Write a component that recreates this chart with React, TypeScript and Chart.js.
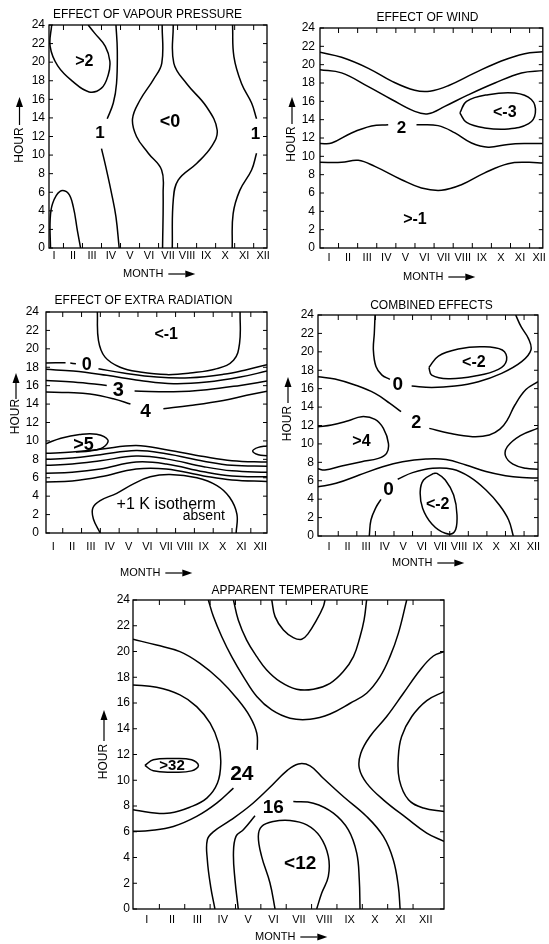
import React, { useEffect, useRef } from "react";
import { Chart, registerables } from "chart.js";

Chart.register(...registerables);

type Pt = [number, number];
type Lbl = [number, number, string];

// ---------- axis values ----------
const MONTHS = ["I", "II", "III", "IV", "V", "VI", "VII", "VIII", "IX", "X", "XI", "XII"];
const HOUR_TICKS = [0, 2, 4, 6, 8, 10, 12, 14, 16, 18, 20, 22, 24];
const MONTH_BOUNDS = [1.5, 2.5, 3.5, 4.5, 5.5, 6.5, 7.5, 8.5, 9.5, 10.5, 11.5];

// ---------- Effect of vapour pressure (month, hour) ----------
const VP_GT2: Pt[] = [[0.88, 24], [0.8, 21.7], [1.2, 19.6], [2.0, 17.9], [2.85, 16.8], [3.5, 17.2], [3.85, 18.6], [3.94, 20.1], [3.7, 21.7], [3.15, 23.1], [2.8, 24]];
const VP_LOW_LEFT: Pt[] = [[0.82, 0], [0.8, 3], [0.93, 4.8], [1.32, 6.1], [1.75, 5.9], [2.02, 4.4], [2.23, 1.9], [2.4, 0]];
const VP_1A_TOP: Pt[] = [[4.26, 24], [4.33, 21.3], [4.29, 17.7], [4.12, 15.6], [3.8, 13.9]];
const VP_1A_BOT: Pt[] = [[3.5, 10.7], [3.73, 8.7], [4.03, 5.86], [4.26, 3.34], [4.43, 0]];
const VP_0_LEFT: Pt[] = [[6.69, 24], [6.67, 19.9], [6.22, 18.1], [5.52, 15.9], [5.13, 13.9], [5.34, 12.0], [5.96, 10.2], [6.66, 8.4], [6.74, 5.9], [6.71, 0]];
const VP_0_RIGHT: Pt[] = [[7.27, 24], [7.3, 19.9], [7.97, 17.7], [9.02, 15.2], [9.58, 12.7], [9.28, 10.9], [8.5, 9.1], [7.53, 7.3], [7.27, 5.1], [7.22, 0]];
const VP_1B_TOP: Pt[] = [[10.39, 24], [10.46, 20.6], [10.86, 17.7], [11.39, 15.6], [11.65, 13.9]];
const VP_1B_BOT: Pt[] = [[11.65, 10.2], [11.39, 8.4], [10.77, 6.2], [10.42, 3.7], [10.37, 0]];
const VP_LABELS: Lbl[] = [[2.6, 20.1, ">2"], [3.42, 12.3, "1"], [7.1, 13.6, "<0"], [11.6, 12.2, "1"]];

// ---------- Effect of wind ----------
const W_TOP: Pt[] = [[0.53, 21.35], [1.66, 20.8], [3.06, 19.6], [4.28, 18.2], [5.49, 17.2], [6.28, 17.1], [7.24, 17.7], [8.63, 19.1], [10.02, 20.4], [11.24, 21.2], [12.19, 21.4]];
const W_SECOND: Pt[] = [[0.53, 19.45], [1.66, 19.1], [3.06, 17.6], [4.28, 16.2], [5.49, 14.9], [6.19, 14.65], [7.06, 15.45], [8.28, 16.7], [9.68, 18.0], [11.07, 19.1], [12.19, 19.35]];
const W_2_LEFT: Pt[] = [[0.53, 11.4], [1.14, 11.45], [2.18, 12.55], [3.23, 13.3], [4.1, 13.45]];
const W_2_RIGHT: Pt[] = [[5.58, 13.45], [6.71, 13.35], [7.59, 12.55], [8.46, 11.45], [9.33, 11.0], [10.37, 11.3], [11.42, 11.4], [12.19, 11.4]];
const W_LT3: Pt[] = [[7.85, 14.73], [8.2, 16.0], [9.33, 16.73], [10.72, 16.9], [11.59, 16.2], [11.8, 14.73], [11.45, 13.56], [10.37, 12.98], [9.15, 13.1], [8.2, 13.7], [7.85, 14.73]];
const W_BOTTOM: Pt[] = [[0.53, 9.35], [1.66, 9.35], [2.53, 9.56], [3.4, 8.9], [4.8, 7.45], [5.84, 6.55], [6.89, 6.3], [7.93, 6.9], [9.15, 8.2], [10.37, 9.2], [11.42, 9.35], [12.19, 9.27]];
const W_LABELS: Lbl[] = [[4.8, 13.1, "2"], [10.2, 14.8, "<-3"], [5.5, 3.1, ">-1"]];

// ---------- Effect of extra radiation ----------
const R_LT1: Pt[] = [[3.34, 24], [3.4, 20.9], [3.75, 19.1], [4.55, 18.0], [5.61, 17.48], [7.03, 17.2], [8.27, 17.37], [9.7, 17.85], [10.58, 18.75], [10.9, 20.57], [10.93, 24]];
const R_0_LEFT: Pt[] = [[0.61, 18.46], [1.65, 18.5]];
const R_0_DASH: Pt[] = [[1.9, 18.45], [2.2, 18.38]];
const R_0_RIGHT: Pt[] = [[3.4, 17.84], [4.73, 17.37], [6.5, 16.93], [8.27, 16.86], [10.04, 17.23], [11.28, 17.73], [12.36, 18.28]];
const R_B: Pt[] = [[0.61, 17.77], [2.06, 17.59], [3.84, 17.12], [5.61, 16.57], [7.39, 16.21], [9.16, 16.39], [10.94, 16.93], [12.36, 17.59]];
const R_3_LEFT: Pt[] = [[0.61, 16.57], [2.06, 16.39], [3.84, 16.03]];
const R_3_RIGHT: Pt[] = [[5.32, 15.42], [7.39, 15.34], [9.16, 15.56], [10.94, 16.03], [12.36, 16.5]];
const R_4_LEFT: Pt[] = [[0.61, 15.3], [1.8, 15.25], [2.95, 15.1], [4.19, 14.58], [5.1, 14.0]];
const R_4_RIGHT: Pt[] = [[6.85, 13.49], [8.27, 13.85], [10.04, 14.4], [11.28, 14.95], [12.36, 15.4]];
const R_GT5: Pt[] = [[0.61, 9.7], [1.4, 10.3], [2.4, 10.7], [3.3, 10.72], [3.9, 10.1], [3.65, 9.3], [2.95, 8.9], [2.2, 8.8]];
const R_L1: Pt[] = [[0.61, 8.65], [2.0, 8.8], [3.5, 9.1], [5.4, 9.5], [7.0, 9.05], [9.0, 8.3], [10.5, 7.85], [12.36, 7.7]];
const R_L2: Pt[] = [[0.61, 8.0], [2.0, 8.15], [3.5, 8.5], [5.4, 8.95], [7.0, 8.6], [9.0, 7.8], [10.5, 7.35], [12.36, 7.25]];
const R_L3: Pt[] = [[0.61, 7.35], [2.0, 7.5], [3.5, 7.85], [5.4, 8.35], [7.0, 8.05], [9.0, 7.2], [10.5, 6.75], [12.36, 6.6]];
const R_L4: Pt[] = [[0.61, 6.5], [2.0, 6.6], [3.5, 6.95], [5.4, 7.7], [7.0, 7.5], [9.0, 6.65], [10.5, 6.2], [12.36, 6.1]];
const R_L5: Pt[] = [[0.61, 5.55], [2.0, 5.65], [3.5, 6.1], [5.4, 6.95], [7.0, 6.95], [9.0, 6.2], [10.5, 5.75], [12.36, 5.6]];
const R_RIGHT_LOOP: Pt[] = [[12.36, 9.45], [11.9, 9.3], [11.6, 8.9], [11.9, 8.5], [12.36, 8.4]];
const R_BUMP: Pt[] = [[3.49, 0], [3.13, 1.52], [3.1, 2.72], [3.49, 3.52], [4.37, 4.31], [5.26, 5.33], [6.15, 6.1], [7.2, 6.35], [8.63, 6.0], [9.7, 5.15], [10.37, 3.88], [10.76, 2.06], [10.72, 0]];
const R_LABELS: Lbl[] = [[7.0, 21.5, "<-1"], [2.78, 18.2, "0"], [4.45, 15.5, "3"], [5.9, 13.2, "4"], [2.6, 9.6, ">5"], [7.0, 3.1, "+1 K isotherm"], [9.0, 1.8, "absent"]];

// ---------- Combined effects ----------
const C_0_TOP_LEFT: Pt[] = [[3.48, 24], [3.44, 22.0], [3.39, 20.2], [3.53, 18.4], [3.84, 17.5], [4.28, 17.0]];
const C_0_TOP_RIGHT: Pt[] = [[5.45, 16.29], [6.53, 16.14], [7.78, 16.29], [9.04, 16.76], [10.29, 17.66], [11.37, 18.93], [11.87, 20.2], [11.73, 21.46], [11.34, 22.73], [11.05, 24]];
const C_LT2_TOP: Pt[] = [[6.38, 18.31], [6.89, 19.54], [7.96, 20.3], [9.22, 20.56], [10.33, 20.2], [10.56, 19.11], [10.12, 18.1], [8.86, 17.37], [7.42, 17.08], [6.53, 17.48], [6.38, 18.31]];
const C_2_LEFT: Pt[] = [[0.41, 17.3], [1.32, 17.05], [2.4, 16.4], [3.48, 15.49], [4.28, 14.4], [4.88, 13.5]];
const C_2_RIGHT: Pt[] = [[6.4, 11.69], [7.48, 11.15], [8.73, 10.79], [9.63, 10.97], [10.2, 11.6], [10.6, 12.6], [11.0, 14.2], [11.6, 15.9], [12.25, 16.76]];
const C_GT4: Pt[] = [[0.41, 11.87], [1.14, 12.05], [2.04, 12.52], [2.76, 12.96], [3.48, 12.67], [3.93, 11.69], [4.2, 10.06], [4.1, 8.98], [3.66, 8.43], [2.76, 8.07], [1.68, 7.6], [0.78, 7.17], [0.41, 7.3]];
const C_MID: Pt[] = [[0.41, 5.35], [1.38, 5.72], [2.63, 6.62], [3.89, 7.53], [4.96, 8.07], [6.22, 8.35], [7.3, 8.3], [8.37, 7.71], [9.45, 7.0], [10.5, 6.55], [11.4, 6.35], [12.25, 6.3]];
const C_RIGHT_LOOP: Pt[] = [[12.25, 11.7], [11.3, 10.9], [10.6, 9.7], [10.5, 8.7], [10.9, 7.8], [11.6, 7.35], [12.25, 7.25]];
const C_0_BOT_LEFT: Pt[] = [[3.17, 0], [3.26, 1.74], [3.53, 3.11], [3.8, 3.98]];
const C_0_BOT_RIGHT: Pt[] = [[4.7, 6.16], [5.5, 6.88], [6.58, 7.35], [7.66, 7.24], [8.55, 6.44], [9.45, 4.99], [10.17, 3.36], [10.67, 1.74], [10.92, 0]];
const C_LT2_BOT: Pt[] = [[6.63, 6.8], [6.09, 6.08], [5.91, 4.82], [6.04, 3.01], [6.54, 1.3], [7.26, 0.29], [7.76, 0.47], [7.89, 2.28], [7.71, 4.45], [7.26, 6.08], [6.81, 6.8], [6.63, 6.8]];
const C_LABELS: Lbl[] = [[4.7, 16.4, "0"], [8.8, 18.8, "<-2"], [5.7, 12.3, "2"], [2.75, 10.2, ">4"], [4.21, 5.0, "0"], [6.85, 3.45, "<-2"]];

// ---------- Apparent temperature ----------
const A_24_LEFT_TOP: Pt[] = [[0.46, 20.95], [1.39, 20.5], [2.31, 19.99], [3.1, 19.08], [3.89, 17.79], [4.55, 16.37], [5.07, 14.95], [5.34, 13.65], [5.36, 12.36]];
const A_24_LEFT_BOT: Pt[] = [[4.42, 9.39], [3.76, 8.22], [2.97, 7.19], [2.05, 6.41], [1.13, 6.1], [0.46, 6.03]];
const A_28_LEFT: Pt[] = [[0.46, 17.4], [1.39, 17.22], [2.31, 16.63], [2.97, 15.72], [3.5, 14.43], [3.83, 12.88], [3.92, 11.33], [3.79, 9.78], [3.37, 8.61], [2.71, 7.91], [1.92, 7.45], [1.13, 7.5], [0.46, 7.71]];
const A_32: Pt[] = [[0.93, 11.15], [1.26, 11.59], [2.05, 11.69], [2.77, 11.59], [3.04, 11.15], [2.77, 10.73], [2.05, 10.63], [1.26, 10.73], [0.93, 11.15]];
const A_20_TOP: Pt[] = [[3.43, 24], [3.63, 22.71], [3.96, 21.15], [4.35, 19.6], [4.81, 18.05], [5.34, 16.5], [5.93, 15.46], [6.65, 14.82], [7.44, 14.74], [8.23, 15.15], [9.02, 15.98], [9.67, 16.76], [10.2, 18.05], [10.59, 19.6], [10.92, 21.41], [11.25, 24]];
const A_16_TOP: Pt[] = [[4.42, 24], [4.61, 22.45], [4.94, 20.89], [5.34, 19.6], [5.73, 18.57], [6.26, 17.66], [6.91, 17.07], [7.57, 17.07], [8.23, 17.53], [8.75, 18.44], [9.15, 19.6], [9.41, 21.15], [9.57, 22.45], [9.67, 24]];
const A_12_TOP: Pt[] = [[5.93, 24], [6.06, 22.71], [6.39, 21.67], [6.78, 21.08], [7.11, 20.95], [7.37, 21.41], [7.7, 22.45], [7.96, 23.48], [8.03, 24]];
const A_24_RIGHT: Pt[] = [[12.72, 19.99], [12.3, 19.65], [11.78, 18.57], [11.12, 16.76], [10.46, 14.95], [9.8, 13.4], [9.44, 12.1], [9.38, 10.94], [9.67, 9.78], [10.33, 8.48], [11.25, 7.06], [12.04, 5.9], [12.72, 5.25]];
const A_28_RIGHT: Pt[] = [[12.72, 16.89], [12.04, 16.19], [11.45, 14.95], [11.05, 13.4], [10.92, 11.84], [10.96, 10.03], [11.32, 8.48], [11.91, 7.84], [12.72, 7.58]];
const A_20_BOT: Pt[] = [[3.69, 0], [3.52, 1.76], [3.39, 3.83], [3.39, 5.38], [3.65, 6.03], [4.29, 6.88], [5.07, 8.02], [5.86, 9.46], [6.52, 10.73], [6.98, 11.27], [7.44, 11.12], [7.96, 10.16], [8.75, 8.74], [9.67, 7.19], [10.33, 5.64], [10.72, 3.83], [10.92, 1.76], [10.99, 0]];
const A_16_BOT_LEFT: Pt[] = [[4.61, 0], [4.48, 2.28], [4.42, 4.34], [4.52, 5.64], [4.81, 6.15], [5.27, 7.24]];
const A_16_BOT_RIGHT: Pt[] = [[6.78, 8.35], [7.57, 8.22], [8.36, 7.45], [8.95, 6.15], [9.28, 4.34], [9.38, 2.28], [9.41, 0]];
const A_12_BOT: Pt[] = [[6.06, 0], [5.86, 2.02], [5.53, 4.09], [5.4, 5.64], [5.53, 6.41], [5.99, 6.8], [6.65, 6.88], [7.31, 6.54], [7.83, 5.64], [8.16, 4.09], [8.16, 2.53], [7.9, 1.24], [7.7, 0]];
const A_LABELS: Lbl[] = [[4.75, 10.5, "24"], [5.99, 7.84, "16"], [7.05, 3.55, "<12"], [2.0, 11.12, ">32"]];

// ---------- layout / style ----------
const FONT = '"Liberation Sans", Arial, Helvetica, sans-serif';

interface PanelCfg {
  title: string;
  lines: Pt[][];
  labels: Lbl[];
  labelSizes: number[];
  labelWeights?: string[];
  xRange: [number, number];
  frame: { left: number; top: number; width: number; height: number };
  box: { left: number; top: number; right: number; bottom: number };
  yPad: number;
  xPad: number;
  titlePos: [number, number];
  hour: [number, number];
  hourArrow: [number, number];
  month: [number, number];
}

const PANELS: PanelCfg[] = [
  {
    title: "EFFECT OF VAPOUR PRESSURE",
    lines: [VP_GT2, VP_LOW_LEFT, VP_1A_TOP, VP_1A_BOT, VP_0_LEFT, VP_0_RIGHT, VP_1B_TOP, VP_1B_BOT],
    labels: VP_LABELS,
    labelSizes: [16, 17, 18, 17],
    xRange: [0.74, 12.2],
    frame: { left: 0, top: 0, width: 275, height: 285 },
    box: { left: 49, top: 25, right: 267, bottom: 248 },
    yPad: 4, xPad: 1,
    titlePos: [147.5, 14.5],
    hour: [19.5, 145], hourArrow: [125, 97],
    month: [123, 274],
  },
  {
    title: "EFFECT OF WIND",
    lines: [W_TOP, W_SECOND, W_2_LEFT, W_2_RIGHT, W_LT3, W_BOTTOM],
    labels: W_LABELS,
    labelSizes: [17, 16, 16],
    xRange: [0.53, 12.19],
    frame: { left: 275, top: 0, width: 274, height: 285 },
    box: { left: 45, top: 28, right: 268, bottom: 248 },
    yPad: 5, xPad: 3,
    titlePos: [152.5, 17.5],
    hour: [17, 144], hourArrow: [124, 97],
    month: [128, 277],
  },
  {
    title: "EFFECT OF EXTRA RADIATION",
    lines: [R_LT1, R_0_LEFT, R_0_DASH, R_0_RIGHT, R_B, R_3_LEFT, R_3_RIGHT, R_4_LEFT, R_4_RIGHT, R_GT5, R_L1, R_L2, R_L3, R_L4, R_L5, R_RIGHT_LOOP, R_BUMP],
    labels: R_LABELS,
    labelSizes: [16, 18, 20, 19, 18, 16, 14],
    labelWeights: ["bold", "bold", "bold", "bold", "bold", "normal", "normal"],
    xRange: [0.61, 12.36],
    frame: { left: 0, top: 285, width: 275, height: 295 },
    box: { left: 46, top: 27, right: 267, bottom: 248 },
    yPad: 7, xPad: 7,
    titlePos: [143.5, 16],
    hour: [16, 131.5], hourArrow: [114, 88],
    month: [120, 288],
  },
  {
    title: "COMBINED EFFECTS",
    lines: [C_0_TOP_LEFT, C_0_TOP_RIGHT, C_LT2_TOP, C_2_LEFT, C_2_RIGHT, C_GT4, C_MID, C_RIGHT_LOOP, C_0_BOT_LEFT, C_0_BOT_RIGHT, C_LT2_BOT],
    labels: C_LABELS,
    labelSizes: [19, 16, 18, 16, 19, 16],
    xRange: [0.41, 12.25],
    frame: { left: 275, top: 285, width: 274, height: 295 },
    box: { left: 43, top: 30, right: 263, bottom: 251 },
    yPad: 4, xPad: 4,
    titlePos: [156.5, 21],
    hour: [13, 138.5], hourArrow: [118, 92],
    month: [117, 278],
  },
  {
    title: "APPARENT TEMPERATURE",
    lines: [A_24_LEFT_TOP, A_24_LEFT_BOT, A_28_LEFT, A_32, A_20_TOP, A_16_TOP, A_12_TOP, A_24_RIGHT, A_28_RIGHT, A_20_BOT, A_16_BOT_LEFT, A_16_BOT_RIGHT, A_12_BOT],
    labels: A_LABELS,
    labelSizes: [21, 19, 19, 15],
    xRange: [0.46, 12.72],
    frame: { left: 0, top: 580, width: 549, height: 364 },
    box: { left: 133, top: 20, right: 444, bottom: 329 },
    yPad: 3, xPad: 4,
    titlePos: [290, 11],
    hour: [104, 181.5], hourArrow: [161, 130],
    month: [255, 357],
  },
];

function drawArrow(ctx: CanvasRenderingContext2D, x1: number, y1: number, x2: number, y2: number) {
  const ang = Math.atan2(y2 - y1, x2 - x1);
  const hl = 10, hw = 3.5;
  const bx = x2 - hl * Math.cos(ang), by = y2 - hl * Math.sin(ang);
  ctx.beginPath();
  ctx.moveTo(x1, y1);
  ctx.lineTo(bx, by);
  ctx.lineWidth = 1.2;
  ctx.stroke();
  ctx.beginPath();
  ctx.moveTo(x2, y2);
  ctx.lineTo(bx + hw * Math.sin(ang), by - hw * Math.cos(ang));
  ctx.lineTo(bx - hw * Math.sin(ang), by + hw * Math.cos(ang));
  ctx.closePath();
  ctx.fill();
}

function drawDecor(chart: any, p: PanelCfg) {
  const ctx: CanvasRenderingContext2D = chart.ctx;
  const a = chart.chartArea;
  const xs = chart.scales.x, ys = chart.scales.y;
  ctx.save();
  ctx.strokeStyle = "#000";
  ctx.fillStyle = "#000";
  ctx.lineWidth = 1.3;
  ctx.strokeRect(a.left, a.top, a.right - a.left, a.bottom - a.top);
  ctx.lineWidth = 1;
  ctx.beginPath();
  for (const h of HOUR_TICKS) {
    const py = ys.getPixelForValue(h);
    ctx.moveTo(a.left, py); ctx.lineTo(a.left + 4, py);
    ctx.moveTo(a.right, py); ctx.lineTo(a.right - 4, py);
  }
  for (const b of MONTH_BOUNDS) {
    const px = xs.getPixelForValue(b);
    ctx.moveTo(px, a.bottom); ctx.lineTo(px, a.bottom - 5);
    ctx.moveTo(px, a.top); ctx.lineTo(px, a.top + 5);
  }
  ctx.stroke();

  ctx.textAlign = "center";
  ctx.textBaseline = "middle";
  p.labels.forEach(([m, h, t], i) => {
    const w = p.labelWeights ? p.labelWeights[i] : "bold";
    ctx.font = `${w} ${p.labelSizes[i]}px ${FONT}`;
    ctx.fillText(t, xs.getPixelForValue(m), ys.getPixelForValue(h));
  });

  ctx.font = `12px ${FONT}`;
  ctx.fillText(p.title, p.titlePos[0], p.titlePos[1]);

  ctx.save();
  ctx.translate(p.hour[0], p.hour[1]);
  ctx.rotate(-Math.PI / 2);
  ctx.fillText("HOUR", 0, 0);
  ctx.restore();
  drawArrow(ctx, p.hour[0], p.hourArrow[0], p.hour[0], p.hourArrow[1]);

  ctx.textAlign = "left";
  ctx.font = `11px ${FONT}`;
  ctx.fillText("MONTH", p.month[0], p.month[1]);
  const tw = ctx.measureText("MONTH").width;
  const ax = p.month[0] + tw + 5;
  drawArrow(ctx, ax, p.month[1], ax + 27, p.month[1]);
  ctx.restore();
}

function ContourPanel({ p, idx }: { p: PanelCfg; idx: number }) {
  const ref = useRef<HTMLCanvasElement | null>(null);
  useEffect(() => {
    if (!ref.current) return;
    const plugin = { id: "decor" + idx, afterDatasetsDraw: (chart: any) => drawDecor(chart, p) };
    const chart = new Chart(ref.current, {
      type: "scatter",
      data: {
        datasets: p.lines.map((line) => ({
          data: line.map(([x, y]) => ({ x, y })),
          showLine: true,
          borderColor: "#000",
          borderWidth: 1.5,
          pointRadius: 0,
          pointHoverRadius: 0,
          tension: 0.4,
          fill: false,
        })),
      },
      options: {
        animation: false,
        responsive: false,
        maintainAspectRatio: false,
        events: [],
        layout: { padding: { top: p.box.top, right: p.frame.width - p.box.right, left: 0, bottom: 0 } },
        plugins: { legend: { display: false }, tooltip: { enabled: false }, title: { display: false } },
        scales: {
          x: {
            type: "linear",
            position: "bottom",
            bounds: "data",
            min: p.xRange[0],
            max: p.xRange[1],
            grid: { display: false, drawTicks: false },
            border: { display: false },
            afterBuildTicks: (s: any) => { s.ticks = MONTHS.map((_, i) => ({ value: i + 1 })); },
            afterFit: (s: any) => { s.height = p.frame.height - p.box.bottom; },
            ticks: {
              autoSkip: false, maxRotation: 0, minRotation: 0, padding: p.xPad, color: "#000",
              font: { family: FONT, size: 11 },
              callback: (v: any) => MONTHS[Math.round(Number(v)) - 1] ?? "",
            },
          },
          y: {
            type: "linear",
            position: "left",
            bounds: "data",
            min: 0,
            max: 24,
            grid: { display: false, drawTicks: false },
            border: { display: false },
            afterBuildTicks: (s: any) => { s.ticks = HOUR_TICKS.map((v) => ({ value: v })); },
            afterFit: (s: any) => { s.width = p.box.left; },
            ticks: {
              autoSkip: false, padding: p.yPad, color: "#000",
              font: { family: FONT, size: 12 },
              callback: (v: any) => String(v),
            },
          },
        },
      } as any,
      plugins: [plugin],
    });
    return () => chart.destroy();
  }, [p, idx]);
  return (
    <canvas
      ref={ref}
      width={p.frame.width}
      height={p.frame.height}
      style={{ position: "absolute", left: p.frame.left, top: p.frame.top, width: p.frame.width, height: p.frame.height }}
    />
  );
}

export default function App() {
  return (
    <div style={{ position: "absolute", left: 0, top: 0, width: 549, height: 944, background: "#fff", overflow: "hidden" }}>
      {PANELS.map((p, i) => (
        <ContourPanel key={i} p={p} idx={i} />
      ))}
    </div>
  );
}
